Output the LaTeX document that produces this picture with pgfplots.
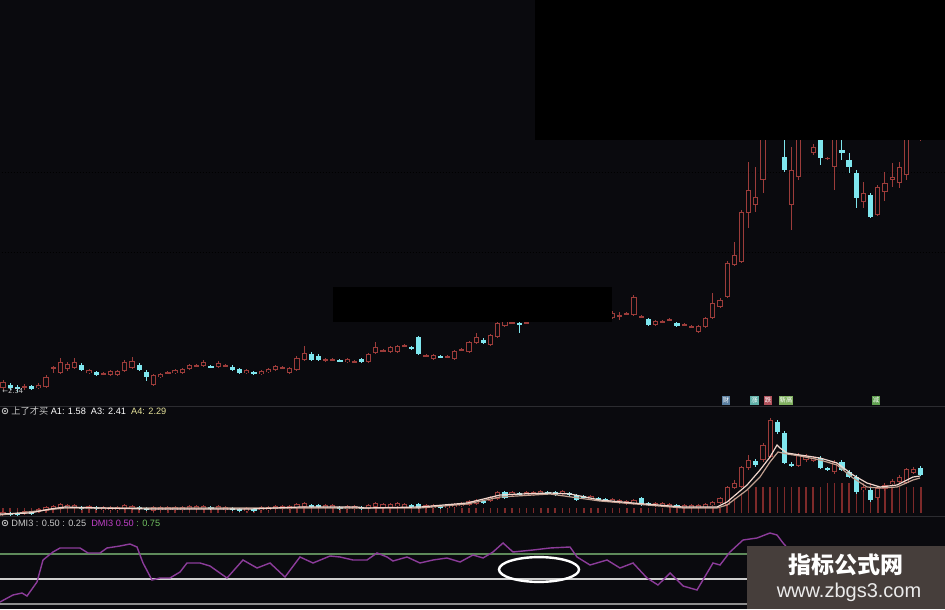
\documentclass[border=0pt]{standalone}
\usepackage{pgfplots}
\pgfplotsset{compat=1.18}
\usepackage{pgfplotstable}
\usepackage{fontspec}
\setmainfont{Liberation Sans}
\newfontfamily\cjk{Noto Sans CJK SC}
\newfontfamily\dv{DejaVu Sans}

\definecolor{bg}{HTML}{0A0A0E}
\definecolor{cRed}{HTML}{9C3C3A}
\definecolor{cCyan}{HTML}{7FE6EE}
\definecolor{cBar}{HTML}{7E2A2A}
\definecolor{maW}{HTML}{F0D6CC}
\definecolor{maP}{HTML}{C0A090}
\definecolor{dmi}{HTML}{8C3C9A}
\definecolor{lvG}{HTML}{5E8A5A}
\definecolor{lvW}{HTML}{CFCFCF}
\definecolor{lvD}{HTML}{8E8E8E}
\definecolor{sep}{HTML}{2C2C30}
\definecolor{grid}{HTML}{1A1A20}
\definecolor{wm}{HTML}{463E3B}
\definecolor{lbl}{HTML}{C8C8C8}
\definecolor{yel}{HTML}{E6E29A}
\definecolor{mag}{HTML}{C040C8}
\definecolor{grn}{HTML}{70C060}

% candle columns (pixel rows, y axis reversed): t/b = body top/bottom, h/l = wick top/bottom, u = 1 up (hollow red), 0 down (cyan)
\pgfplotstableread{
i t b h l u
0 382 388 380 390 1
1 385 388 383 390 0
2 387 389 385 392 0
3 386 388 384 390 1
4 386 389 385 390 0
5 385 388 383 389 1
6 377 387 375 388 1
7 367 368 366 373 1
8 362 373 358 374 1
9 364 369 362 371 1
10 362 368 358 369 1
11 365 370 363 371 0
12 370 373 369 374 1
13 372 375 371 376 0
14 373 374 372 375 1
15 371 375 370 376 1
16 371 375 370 376 1
17 362 371 360 372 1
18 361 368 357 369 1
19 365 370 363 371 0
20 372 377 370 381 0
21 375 385 374 386 1
22 374 377 373 378 1
23 372 373 371 374 1
24 370 373 369 374 1
25 369 373 368 374 1
26 365 369 364 370 1
27 365 366 364 367 1
28 362 366 360 367 1
29 366 367 365 368 0
30 363 367 361 368 1
31 365 366 364 367 1
32 367 370 365 371 0
33 369 373 368 374 0
34 370 373 369 374 1
35 372 374 371 375 0
36 371 374 370 375 1
37 369 372 368 373 1
38 366 370 365 371 1
39 367 368 366 369 1
40 368 373 367 374 1
41 358 370 356 371 1
42 353 360 346 361 1
43 354 360 352 361 0
44 356 360 354 361 0
45 359 361 358 362 1
46 359 360 358 361 1
47 360 361 359 362 0
48 359 362 358 363 1
49 361 362 360 363 1
50 359 362 358 363 0
51 354 362 353 363 1
52 347 353 342 354 1
53 350 351 349 352 1
54 347 352 346 353 1
55 346 352 345 353 1
56 345 346 344 347 1
57 347 349 346 350 0
58 337 354 336 355 0
59 355 356 354 357 1
60 355 359 354 360 1
61 356 357 355 358 0
62 356 357 355 358 1
63 351 359 350 360 1
64 349 350 348 351 1
65 342 352 341 353 1
66 337 343 333 344 1
67 340 343 338 344 0
68 335 345 334 346 1
69 323 337 321 338 1
70 315 326 313 327 1
71 322 323 320 324 1
72 323 325 320 333 0
73 322 323 321 324 1
74 315 320 313 321 1
75 312 317 310 319 1
76 310 314 308 316 0
77 308 313 306 315 1
78 305 311 303 313 1
79 306 310 304 312 0
80 303 309 300 311 1
81 305 308 303 310 0
82 302 307 300 309 1
83 304 308 302 310 0
84 306 311 304 313 0
85 313 318 311 319 1
86 315 316 312 320 1
87 313 314 312 315 1
88 297 315 295 316 1
89 316 317 315 318 1
90 319 325 318 326 0
91 321 325 320 326 1
92 321 322 320 323 1
93 319 320 318 321 1
94 323 326 322 327 0
95 324 325 323 326 1
96 326 327 325 328 1
97 326 332 325 333 1
98 318 327 317 328 1
99 303 318 293 319 1
100 300 307 298 308 1
101 263 297 261 298 1
102 255 265 242 266 1
103 212 262 210 263 1
104 190 213 162 228 1
105 197 205 167 212 1
106 120 180 110 193 1
107 90 125 80 135 1
108 95 120 85 130 0
109 157 170 140 172 0
110 170 205 147 230 1
111 125 177 120 180 1
112 118 135 110 138 1
113 147 153 144 155 1
114 130 158 125 165 0
115 158 159 157 160 1
116 130 167 125 190 1
117 150 153 140 160 0
118 160 167 153 173 0
119 173 198 170 208 0
120 193 202 182 208 1
121 195 217 193 218 0
122 187 215 185 216 1
123 183 192 172 201 1
124 177 180 163 187 1
125 167 183 162 188 1
126 125 175 120 180 1
127 120 135 110 138 1
128 118 136 112 141 1
}\topK

% indicator panel, same layout plus v = top of the red volume-like bar
\pgfplotstableread{
i t b h l u v
0 512 515 511 516 1 508
1 513 515 512 516 0 508
2 513 515 512 516 0 508
3 511 514 510 515 1 508
4 512 514 511 515 0 508
5 509 512 508 513 1 508
6 507 511 506 512 1 508
7 506 509 505 510 1 508
8 504 509 503 510 1 508
9 505 508 504 509 1 508
10 505 508 504 509 1 508
11 507 509 506 510 0 508
12 506 509 505 510 1 508
13 507 509 506 510 0 508
14 507 510 506 511 1 508
15 507 510 506 511 1 508
16 507 510 506 511 1 508
17 505 509 504 510 1 508
18 506 509 505 510 1 508
19 507 509 506 510 0 508
20 508 510 507 511 0 508
21 507 511 506 512 1 508
22 507 510 506 511 1 508
23 507 510 506 511 1 508
24 507 510 506 511 1 508
25 507 510 506 511 1 508
26 506 509 505 510 1 508
27 506 509 505 510 1 508
28 506 509 505 510 1 508
29 507 509 506 510 0 508
30 506 509 505 510 1 508
31 507 510 506 511 1 508
32 508 510 507 511 0 508
33 509 511 508 512 0 508
34 508 511 507 512 1 508
35 509 511 508 512 0 508
36 507 510 506 511 1 508
37 507 510 506 511 1 508
38 506 509 505 510 1 508
39 506 509 505 510 1 508
40 506 509 505 510 1 508
41 504 508 503 509 1 508
42 503 507 502 508 1 508
43 505 507 504 508 0 508
44 505 507 504 508 0 508
45 505 508 504 509 1 508
46 505 508 504 509 1 508
47 507 509 506 510 0 508
48 506 509 505 510 1 508
49 506 509 505 510 1 508
50 507 509 506 510 0 508
51 505 508 504 509 1 508
52 503 507 502 508 1 508
53 504 507 503 508 1 508
54 504 507 503 508 1 508
55 503 506 502 507 1 508
56 504 507 503 508 1 508
57 505 507 504 508 0 508
58 504 508 503 509 0 508
59 505 508 504 509 1 508
60 505 508 504 509 1 508
61 506 508 505 509 0 508
62 505 508 504 509 1 508
63 504 507 503 508 1 508
64 503 506 502 507 1 508
65 501 505 500 506 1 508
66 500 504 499 505 1 508
67 501 503 500 504 0 508
68 497 501 496 502 1 508
69 492 499 491 500 1 508
70 492 498 491 499 0 508
71 492 495 491 496 1 508
72 493 495 492 496 0 508
73 492 495 491 496 1 508
74 492 495 491 496 1 508
75 491 494 490 495 1 508
76 492 494 491 495 0 508
77 492 495 491 496 0 508
78 491 494 490 495 1 508
79 493 495 492 496 0 508
80 495 500 494 501 0 508
81 496 498 495 499 0 508
82 496 499 495 500 1 508
83 498 500 497 501 0 508
84 499 501 498 502 0 508
85 499 502 498 503 1 508
86 500 503 499 504 1 508
87 501 504 500 505 1 508
88 500 504 499 505 1 508
89 498 505 497 506 0 508
90 503 505 502 506 0 508
91 503 506 502 507 1 508
92 503 506 502 507 1 508
93 504 507 503 508 1 508
94 505 507 504 508 0 508
95 505 508 504 509 1 508
96 505 508 504 509 1 508
97 505 508 504 509 1 508
98 504 507 503 508 1 508
99 502 505 501 506 1 508
100 498 503 497 504 1 508
101 487 505 486 506 1 505
102 483 488 480 489 1 498
103 467 487 466 488 1 493
104 460 468 455 470 1 490
105 461 465 459 467 0 487
106 445 460 443 462 1 487
107 420 457 418 458 1 487
108 422 432 420 434 0 487
109 433 463 431 464 0 487
110 464 466 462 467 0 487
111 455 466 453 467 1 487
112 456 460 454 462 1 487
113 458 461 456 462 1 487
114 458 468 456 469 0 487
115 468 470 467 471 0 483
116 462 472 460 474 1 483
117 462 470 460 471 0 483
118 472 477 470 478 0 483
119 477 492 475 494 0 483
120 487 490 485 492 1 483
121 490 500 488 502 0 483
122 488 498 486 500 1 487
123 485 489 483 491 1 487
124 481 484 479 486 1 487
125 477 482 475 484 1 487
126 469 483 468 484 1 487
127 469 473 467 474 1 487
128 468 475 466 476 0 487
}\midK

\pgfplotsset{
  panel/.style={scale only axis, hide axis, width=472.5pt,
    xmin=-0.4184, xmax=131.38, clip=true},
  cndl/.style n args={2}{draw=none, mark=none, forget plot,
    error bars/.cd, y dir=both, y explicit, error mark=none,
    error bar style={draw=#1, line width=#2}},
}

\newcommand{\candles}[1]{%
  \addplot[cndl={cRed}{0.5pt}] table[x=i,
    y expr={\thisrow{u}==1 ? 0.5*(\thisrow{h}+\thisrow{l}) : nan},
    y error expr={0.5*(\thisrow{l}-\thisrow{h})}] {#1};
  \addplot[cndl={cCyan}{0.5pt}] table[x=i,
    y expr={\thisrow{u}==0 ? 0.5*(\thisrow{h}+\thisrow{l}) : nan},
    y error expr={0.5*(\thisrow{l}-\thisrow{h})}] {#1};
  \addplot[cndl={cRed}{2.6pt}] table[x=i,
    y expr={\thisrow{u}==1 ? 0.5*(\thisrow{t}+\thisrow{b}) : nan},
    y error expr={max(0.5*(\thisrow{b}-\thisrow{t}),0.5)}] {#1};
  \addplot[cndl={bg}{1.6pt}] table[x=i,
    y expr={and(\thisrow{u}==1,\thisrow{b}-\thisrow{t}>2) ? 0.5*(\thisrow{t}+\thisrow{b}) : nan},
    y error expr={0.5*(\thisrow{b}-\thisrow{t})-1}] {#1};
  \addplot[cndl={cCyan}{2.6pt}] table[x=i,
    y expr={\thisrow{u}==0 ? 0.5*(\thisrow{t}+\thisrow{b}) : nan},
    y error expr={max(0.5*(\thisrow{b}-\thisrow{t}),0.5)}] {#1};
}

\begin{document}
\begin{tikzpicture}
\useasboundingbox (0,0) rectangle (472.5pt,304.5pt);
\fill[bg] (0,0) rectangle (472.5pt,304.5pt);

% price panel
\begin{axis}[panel, at={(0pt,101.5pt)}, anchor=south west, height=203pt,
  ymin=0, ymax=406, y dir=reverse]
  \addplot[grid, densely dotted, line width=0.5pt] coordinates {(-1,173) (132,173)};
  \addplot[grid, densely dotted, line width=0.5pt] coordinates {(-1,253) (132,253)};
  \candles{\topK}
\end{axis}

% indicator panel
\begin{axis}[panel, at={(0pt,46pt)}, anchor=south west, height=55pt,
  ymin=407, ymax=517, y dir=reverse]
  \addplot[cndl={cBar}{0.75pt}] table[x=i, y expr={0.5*(\thisrow{v}+513)},
    y error expr={0.5*(513-\thisrow{v})}] {\midK};
  \candles{\midK}
  \addplot[maP, line width=0.6pt] coordinates {
    (-0.42,515) (8.65,508) (41.42,508) (58.16,508) (64.71,504) (69.32,497)
    (76.29,494) (83.26,501) (94.84,508) (99.58,508) (100.98,505) (103.77,490)
    (105.58,477) (106.97,462) (108.09,452) (109.34,454) (111.16,456)
    (113.95,460) (116.32,465) (118.55,478) (120.5,487) (122.32,488)
    (124.69,487) (126.92,480) (127.89,478)};
  \addplot[maW, line width=0.6pt] coordinates {
    (-0.42,514) (3.77,513) (6.56,509) (8.65,507) (13.53,508) (20.5,509)
    (34.45,509) (41.42,507) (49.37,507) (50.49,508) (58.16,507) (64.71,503)
    (69.32,495) (72.11,494) (76.29,493) (79.08,494) (83.26,500) (87.87,503)
    (94.84,507) (99.58,507) (100.98,502) (103.77,485) (105.58,470)
    (106.97,457) (107.95,445) (108.37,448) (109.34,453) (111.16,455)
    (113.95,458) (116.32,463) (118.55,475) (120.5,483) (122.32,487)
    (124.69,485) (126.92,477) (127.89,476)};
\end{axis}

% DMI3 panel
\begin{axis}[panel, at={(0pt,0pt)}, anchor=south west, height=46pt,
  ymin=0.20, ymax=1.12]
  \addplot[lvG, line width=0.8pt] coordinates {(-1,0.75) (132,0.75)};
  \addplot[lvW, line width=0.8pt] coordinates {(-1,0.50) (132,0.50)};
  \addplot[lvD, line width=0.8pt] coordinates {(-1,0.25) (132,0.25)};
  \addplot[dmi, line width=0.7pt] coordinates {
    (-0.42,0.27) (1.39,0.34) (2.65,0.36) (3.35,0.33) (4.74,0.47) (5.58,0.69)
    (6.97,0.77) (7.95,0.81) (10.74,0.81) (11.85,0.76) (13.53,0.76) (14.5,0.81)
    (16.32,0.83) (17.71,0.85) (18.69,0.82) (19.53,0.66) (20.78,0.49)
    (21.9,0.51) (23.29,0.51) (24.69,0.57) (25.66,0.66) (27.48,0.66)
    (28.87,0.63) (31.24,0.51) (33.47,0.69) (35.43,0.61) (37.24,0.66)
    (39.33,0.52) (41.42,0.72) (43.24,0.66) (45.61,0.73) (47.0,0.72)
    (48.81,0.69) (50.77,0.69) (52.16,0.76) (53.56,0.72) (54.39,0.68)
    (56.35,0.72) (58.16,0.66) (59.97,0.69) (61.92,0.71) (63.74,0.67)
    (65.55,0.74) (66.95,0.71) (68.34,0.77) (69.74,0.86) (71.13,0.77)
    (73.92,0.79) (76.29,0.81) (79.08,0.82) (80.06,0.72) (81.87,0.64)
    (84.24,0.69) (86.05,0.61) (87.87,0.66) (89.82,0.51) (91.35,0.44)
    (93.03,0.56) (94.84,0.43) (96.79,0.39) (99.02,0.66) (100.0,0.64)
    (101.39,0.77) (103.21,0.89) (105.16,0.91) (106.97,0.96) (107.95,0.94)
    (108.79,0.86) (111.16,0.67) (115.34,0.54) (120.92,0.49) (127.89,0.59)};
\end{axis}

% overlay in pixel units (column, row)
\begin{scope}[shift={(0pt,304.5pt)}, x=0.5pt, y=-0.5pt]
  \draw[sep, line width=0.5pt] (0,407) -- (945,407);
  \draw[sep, line width=0.5pt] (0,517) -- (945,517);
  % blacked-out areas
  \fill[black] (535,0) rectangle (945,140);
  \fill[black] (333,287) rectangle (612,322);
  % low marker
  \node[anchor=west, inner sep=0, text=lbl, font=\dv\fontsize{3.4}{4}\selectfont] at (2,391) {←2.34};
  % signal tags
  \foreach \xa/\xb/\c/\t in {722/730/5A7FA0/财, 750/759/5FB0A8/涨, 764/772/B0505A/跌, 779/793/80B060/新高, 872/880/60A050/减}{
    \definecolor{tagc}{HTML}{\c}
    \fill[tagc] (\xa,396) rectangle (\xb,405);
    \node[inner sep=0, text=white, font=\cjk\fontsize{3.2}{3.5}\selectfont] at ({0.5*(\xa+\xb)},400.5) {\t};
  }
  % panel titles
  \draw[lbl, line width=0.4pt] (5,411) circle (1.4pt);
  \fill[lbl] (5,411) circle (0.6pt);
  \node[anchor=west, inner sep=0, font=\fontsize{4.6}{5}\selectfont] at (11,411)
    {{\color{lbl}\cjk 上了才买}\ {\color{white}A1: 1.58}\ \ {\color{white}A3: 2.41}\ \ {\color{yel}A4: 2.29}};
  \draw[lbl, line width=0.4pt] (5,523) circle (1.4pt);
  \fill[lbl] (5,523) circle (0.6pt);
  \node[anchor=west, inner sep=0, font=\fontsize{4.6}{5}\selectfont] at (11,523)
    {{\color{lbl}DMI3 : 0.50 : 0.25}\ \ {\color{mag}DMI3 0.50}\ {\color{grn}: 0.75}};
  % highlight ring
  \draw[white, line width=1.2pt] (539,569.5) ellipse [x radius=20pt, y radius=6.2pt];
  % watermark
  \fill[wm] (747,546) rectangle (945,609);
  \node[inner sep=0, text=white, font=\cjk\bfseries\fontsize{11.5}{12}\selectfont] at (846,565) {指标公式网};
  \node[inner sep=0, text=white!92!black, font=\fontsize{10}{11}\selectfont] at (849,592) {www.zbgs3.com};
\end{scope}
\end{tikzpicture}
\end{document}
